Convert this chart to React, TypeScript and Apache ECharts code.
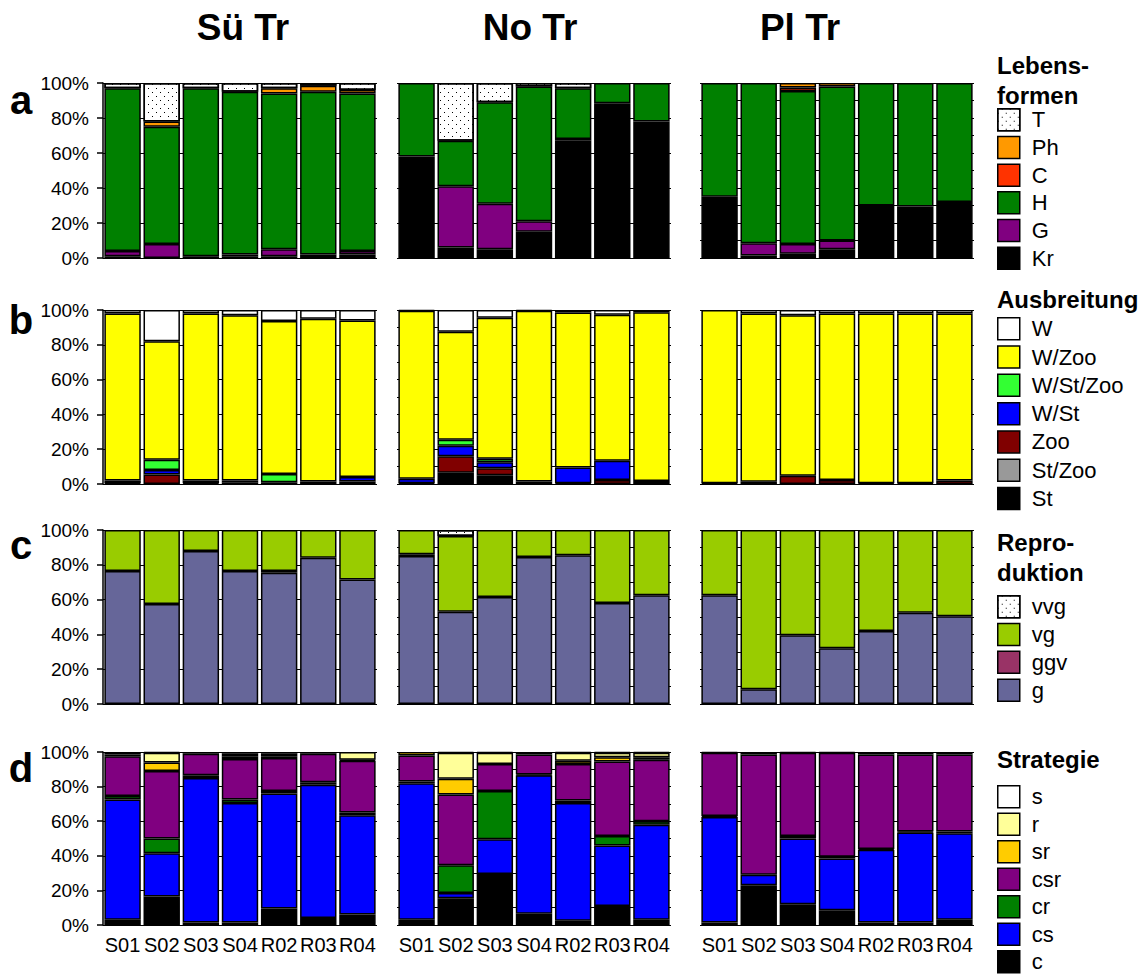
import React, { useEffect, useRef } from 'react';
import * as echarts from 'echarts';

const FONT = '"Liberation Sans", Arial, Helvetica, sans-serif';

const sites = ['S01', 'S02', 'S03', 'S04', 'R02', 'R03', 'R04'];
const columnTitles = ['Sü Tr', 'No Tr', 'Pl Tr'];
const rowLetters = ['a', 'b', 'c', 'd'];
const tickLabels = ['0%', '20%', '40%', '60%', '80%', '100%'];

// Each array: 7 values Sü Tr, 7 values No Tr, 7 values Pl Tr (percent)
// a) Lebensformen
const kr = [1, 0, 1, 1, 1, 2, 2, 58, 6, 5, 15, 67, 87.5, 78, 35, 1.5, 2.5, 5, 30, 29.5, 32];
const gLf = [3, 8, 0, 1, 4, 0, 2, 0, 35, 26, 6, 1, 1, 0, 0, 7, 5.5, 5, 0, 0, 0];
const hLf = [93, 67, 96, 93, 89, 93, 90, 42, 26, 58, 77, 29, 11.5, 22, 65, 91.5, 87.5, 88, 70, 70.5, 68];
const cLf = [0, 0, 0, 0, 0, 0, 0, 0, 0, 0, 0, 0, 0, 0, 0, 0, 2, 0, 0, 0, 0];
const ph = [0, 3, 0, 0, 3, 3.5, 2, 0, 0, 0, 0, 0, 0, 0, 0, 0, 2.5, 2, 0, 0, 0];
const tLf = [3, 22, 3, 5, 3, 1.5, 4, 0, 33, 11, 2, 3, 0, 0, 0, 0, 0, 0, 0, 0, 0];

// b) Ausbreitung
const st = [0.5, 0, 0.5, 1, 1, 1.5, 0, 0.5, 6.5, 5, 1.5, 0.5, 0, 0, 0.5, 0, 0, 0, 0.5, 0.5, 0];
const stZoo = [0, 0, 0, 0, 0, 0, 0, 0, 0, 0, 0, 0, 0, 0, 0, 0, 0, 0, 0, 0, 0];
const zoo = [1.5, 5.5, 1.5, 1, 0, 0, 1.5, 0, 9.5, 4, 0, 0, 2.3, 1.7, 0, 1.3, 4.8, 2.3, 0, 0, 2];
const wSt = [0, 2.5, 0, 0, 0, 0, 2.5, 2.5, 6, 3.5, 0, 9, 11, 0, 0, 0, 0, 0, 0, 0, 0];
const wStZoo = [0, 6, 0, 0, 4.7, 0, 0, 0, 3.5, 2, 0, 0, 0, 0, 0, 0, 0, 0, 0, 0, 0];
const wZoo = [96, 68, 96, 95, 88, 93.5, 90, 96.5, 62, 81, 98, 89, 84, 97, 99.5, 96.7, 92.2, 95.7, 97.5, 97.5, 96];
const w = [2, 18, 2, 3, 6.3, 5, 6, 0.5, 12.5, 4.5, 0.5, 1.5, 2.7, 1.3, 0, 2, 3, 2, 2, 2, 2];

// c) Reproduktion
const gRep = [76.5, 57.5, 88, 76.5, 75.5, 84, 71.5, 85, 53, 61.5, 84.5, 85.5, 58, 62.5, 62.5, 8.5, 39.5, 32, 42, 52.5, 50.5];
const ggv = [0, 0, 0, 0, 1, 0, 0, 1, 0, 0, 0, 0, 0, 0, 0, 0, 0, 0, 0, 0, 0];
const vg = [23.5, 42.5, 12, 23.5, 23.5, 16, 28.5, 14, 43.5, 38.5, 15.5, 14.5, 42, 37.5, 37.5, 91.5, 60.5, 68, 58, 47.5, 49.5];
const vvg = [0, 0, 0, 0, 0, 0, 0, 0, 3.5, 0, 0, 0, 0, 0, 0, 0, 0, 0, 0, 0, 0];

// d) Strategie
const cStr = [3, 16.5, 1.5, 1.5, 9.5, 4, 6, 3, 15.5, 29.5, 6.5, 2.5, 11, 3, 1.5, 23, 12, 8.5, 1.5, 1.5, 3];
const cs = [69.5, 25, 83.5, 69, 66.5, 77, 57.5, 79, 3, 20, 80, 68, 35, 55, 61, 6, 38, 30, 42, 52, 50];
const cr = [2, 8.5, 1.5, 2, 1.5, 1.5, 1.5, 1, 16, 28, 0.5, 1.5, 5.5, 2, 0.5, 0, 1.5, 1, 0.5, 0.5, 1];
const csr = [23, 39, 12.5, 23.5, 19, 16.5, 30, 15, 41, 15.5, 11.5, 21, 43, 35.5, 36.5, 69.5, 48, 60, 54.5, 44.5, 44.5];
const sr = [1, 5, 0, 1.5, 1, 0, 0.5, 2, 9, 0, 0, 2, 2.5, 1.5, 0, 0, 0, 0, 0, 0, 0];
const rStr = [1.5, 5.5, 0, 1.5, 1.5, 0, 4.5, 0, 15, 6.5, 0, 4.5, 2.5, 2.5, 0, 0, 0, 0, 0, 0, 0];
const sStr = [0, 0.5, 1, 1, 1, 1, 0, 0, 0.5, 0.5, 1.5, 0.5, 0.5, 0.5, 0.5, 1.5, 0.5, 0.5, 1.5, 1.5, 1.5];

const dotDecal = {
  symbol: 'rect',
  symbolSize: 1,
  dashArrayX: [[1, 7], [0, 4, 1, 3]],
  dashArrayY: [1, 3],
  color: '#000',
  rotation: 0,
};

type Cat = { name: string; color: string; data: number[]; dotted?: boolean };
const rowsDef: { legendTitle: string; cats: Cat[] }[] = [
  {
    legendTitle: 'Lebens-\nformen',
    cats: [
      { name: 'Kr', color: '#000000', data: kr },
      { name: 'G', color: '#800080', data: gLf },
      { name: 'H', color: '#008000', data: hLf },
      { name: 'C', color: '#FF3300', data: cLf },
      { name: 'Ph', color: '#FF9900', data: ph },
      { name: 'T', color: '#FFFFFF', data: tLf, dotted: true },
    ],
  },
  {
    legendTitle: 'Ausbreitung',
    cats: [
      { name: 'St', color: '#000000', data: st },
      { name: 'St/Zoo', color: '#999999', data: stZoo },
      { name: 'Zoo', color: '#800000', data: zoo },
      { name: 'W/St', color: '#0000FF', data: wSt },
      { name: 'W/St/Zoo', color: '#33FF33', data: wStZoo },
      { name: 'W/Zoo', color: '#FFFF00', data: wZoo },
      { name: 'W', color: '#FFFFFF', data: w },
    ],
  },
  {
    legendTitle: 'Repro-\nduktion',
    cats: [
      { name: 'g', color: '#666699', data: gRep },
      { name: 'ggv', color: '#993366', data: ggv },
      { name: 'vg', color: '#99CC00', data: vg },
      { name: 'vvg', color: '#FFFFFF', data: vvg, dotted: true },
    ],
  },
  {
    legendTitle: 'Strategie',
    cats: [
      { name: 'c', color: '#000000', data: cStr },
      { name: 'cs', color: '#0000FF', data: cs },
      { name: 'cr', color: '#008000', data: cr },
      { name: 'csr', color: '#800080', data: csr },
      { name: 'sr', color: '#FFCC00', data: sr },
      { name: 'r', color: '#FFFF99', data: rStr },
      { name: 's', color: '#FFFFFF', data: sStr },
    ],
  },
];

const colLeft = [103, 397, 700];
const plotW = 274;
const rowTop = [83, 310, 530, 752];
const rowH = [175, 174, 174, 173];
const gridStep = [
  [20, 20, 10],
  [20, 10, 20],
  [20, 10, 10],
  [20, 10, 20],
];
const legendTop = [108, 317, 595, 785];
const legendGap = [4.2, 4.8, 4.3, 4.0];
const legendTitleY = [50, 284, 527, 744];
const colTitleX = [243, 530, 800];
const rowLetterY = [100, 320, 545, 768];

function buildOption() {
  const grid: any[] = [];
  const xAxis: any[] = [];
  const yAxis: any[] = [];
  const series: any[] = [];
  const legend: any[] = [];
  const graphic: any[] = [];

  rowsDef.forEach((row, r) => {
    for (let c = 0; c < 3; c++) {
      const idx = r * 3 + c;
      grid.push({ left: colLeft[c], top: rowTop[r], width: plotW, height: rowH[r] });
      xAxis.push({
        type: 'category',
        gridIndex: idx,
        data: sites,
        axisLine: { show: false },
        axisTick: { show: false },
        axisLabel: { show: r === 3, interval: 0, fontSize: 20, color: '#000', fontFamily: FONT, margin: 10 },
      });
      yAxis.push({
        type: 'value',
        gridIndex: idx,
        min: 0,
        max: 100,
        interval: gridStep[r][c],
        axisLine: { show: c === 0, lineStyle: { color: '#000', width: 1.5 } },
        axisTick: { show: c === 0, length: 6, lineStyle: { color: '#000', width: 1.5 } },
        axisLabel: {
          show: c === 0,
          fontSize: 19,
          color: '#000',
          fontFamily: FONT,
          margin: 14,
          formatter: (v: number) => tickLabels[Math.round(v / 20)] ?? '',
        },
        splitLine: { show: true, lineStyle: { color: '#000', width: 1 } },
      });
      row.cats.forEach((cat) => {
        const itemStyle: any = { color: cat.color, borderColor: '#000', borderWidth: 1.5 };
        if (cat.dotted) itemStyle.decal = dotDecal;
        series.push({
          type: 'bar',
          name: cat.name,
          xAxisIndex: idx,
          yAxisIndex: idx,
          stack: 'stack' + idx,
          barCategoryGap: '7%',
          silent: true,
          data: cat.data.slice(c * 7, c * 7 + 7).map((v) => (v === 0 ? null : v)),
          itemStyle,
        });
      });
    }
    legend.push({
      orient: 'vertical',
      left: 997,
      top: legendTop[r],
      height: 260,
      padding: 0,
      itemWidth: 22,
      itemHeight: 22,
      itemGap: legendGap[r],
      icon: 'rect',
      selectedMode: false,
      data: row.cats.map((c) => c.name).reverse(),
      itemStyle: { borderColor: '#000', borderWidth: 1.5 },
      textStyle: { fontSize: 22, lineHeight: 22, color: '#000', fontFamily: FONT, padding: [0, 0, 0, 7] },
    });
    graphic.push({
      type: 'text',
      x: 997,
      y: legendTitleY[r],
      style: {
        text: row.legendTitle,
        font: `bold 24px ${FONT}`,
        fill: '#000',
        lineHeight: 30,
        textVerticalAlign: 'top',
      },
    });
    graphic.push({
      type: 'text',
      x: 21,
      y: rowLetterY[r],
      style: {
        text: rowLetters[r],
        font: `bold 40px ${FONT}`,
        fill: '#000',
        textAlign: 'center',
        textVerticalAlign: 'middle',
      },
    });
  });

  columnTitles.forEach((t, c) => {
    graphic.push({
      type: 'text',
      x: colTitleX[c],
      y: 27,
      style: {
        text: t,
        font: `bold 37px ${FONT}`,
        fill: '#000',
        textAlign: 'center',
        textVerticalAlign: 'middle',
      },
    });
  });

  return {
    animation: false,
    backgroundColor: '#fff',
    grid,
    xAxis,
    yAxis,
    series,
    legend,
    graphic,
  };
}

export default function App() {
  const ref = useRef<HTMLDivElement>(null);
  useEffect(() => {
    document.body.style.margin = '0';
    if (!ref.current) return;
    const chart = echarts.init(ref.current, null, { renderer: 'svg' });
    chart.setOption(buildOption() as any);
    return () => chart.dispose();
  }, []);
  return <div ref={ref} style={{ width: 1143, height: 976 }} />;
}
